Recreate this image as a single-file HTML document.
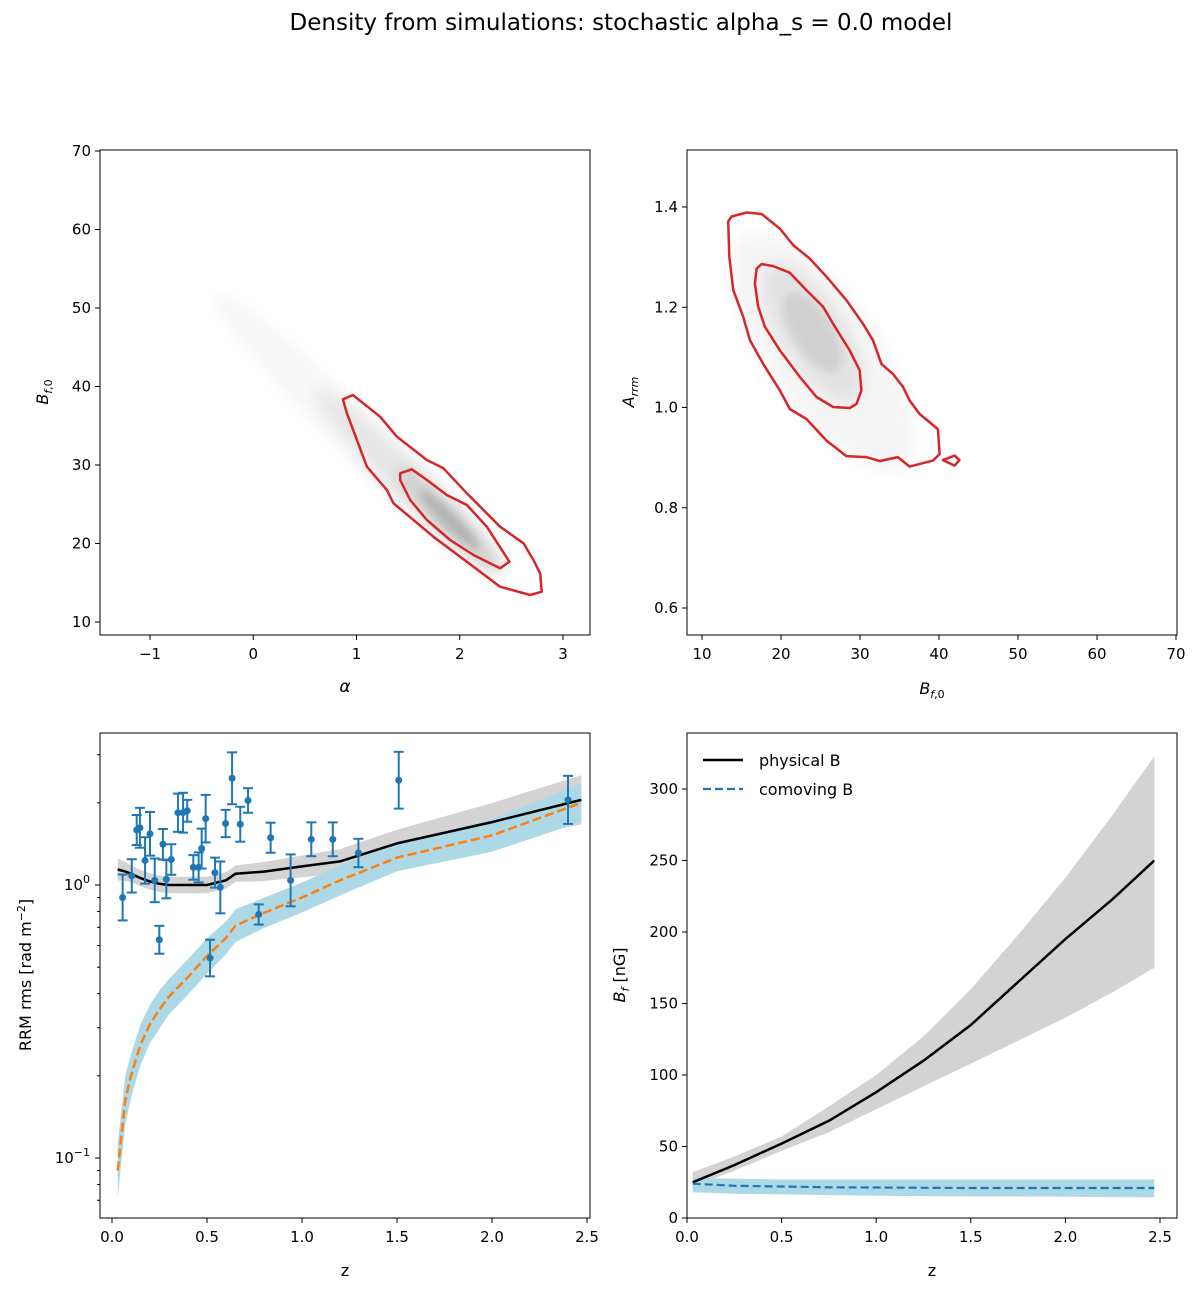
<!DOCTYPE html>
<html><head><meta charset="utf-8"><style>
body{margin:0;background:#fff}
svg{display:block;font-family:"DejaVu Sans","Liberation Sans",sans-serif}
</style></head><body>
<svg id="fig" width="1200" height="1289" viewBox="0 0 1200 1289" xmlns="http://www.w3.org/2000/svg">
<defs>
<filter id="blur8" x="-50%" y="-50%" width="200%" height="200%"><feGaussianBlur stdDeviation="8"/></filter>
<filter id="blur4" x="-50%" y="-50%" width="200%" height="200%"><feGaussianBlur stdDeviation="4"/></filter>
</defs>
<text x="621" y="30" font-size="23" text-anchor="middle">Density from simulations: stochastic alpha_s = 0.0 model</text>
<g id="root"></g>
</svg>
<script>
// ---------- data ----------
const tlOuterA=[0.868,0.965,1.229,1.391,1.682,1.842,2.069,2.391,2.617,2.713,2.778,2.795,2.681,2.391,2.133,1.745,1.358,1.294,1.101,0.907];
const tlOuterB=[38.37,38.92,36.15,33.61,30.64,29.58,26.39,22.14,20.03,17.90,16.20,13.86,13.44,14.50,17.04,20.87,25.12,26.82,29.78,36.59];
const tlInnerA=[1.423,1.536,1.682,1.875,2.069,2.262,2.481,2.391,2.133,1.907,1.682,1.520,1.423];
const tlInnerB=[28.94,29.45,28.09,26.18,24.90,22.14,17.68,16.84,18.54,20.45,23.0,25.54,28.09];
const trOuterB=[13.32,13.75,15.65,17.54,19.86,21.54,23.65,25.76,28.28,30.38,31.65,32.71,34.17,35.44,36.28,37.55,39.86,40.07,39.23,36.28,34.80,32.49,30.81,28.28,25.76,23.23,21.12,19.86,17.75,16.07,15.22,13.96,13.45];
const trOuterA=[1.371,1.381,1.389,1.386,1.357,1.324,1.297,1.261,1.214,1.167,1.134,1.087,1.067,1.041,1.014,0.987,0.957,0.907,0.894,0.882,0.901,0.893,0.901,0.903,0.934,0.977,0.997,1.034,1.087,1.134,1.181,1.234,1.301];
const trInnerB=[16.91,17.54,19.01,21.12,23.23,25.33,26.59,28.70,29.96,30.18,29.55,28.70,26.59,24.49,22.38,19.86,17.96,17.11,16.70];
const trInnerA=[1.277,1.286,1.282,1.269,1.234,1.201,1.167,1.114,1.074,1.034,1.007,0.999,1.001,1.021,1.061,1.114,1.161,1.201,1.247];
const trIsleB=[40.49,41.97,42.60,41.97];
const trIsleA=[0.895,0.904,0.895,0.884];

const obsZ=[0.056,0.104,0.130,0.147,0.174,0.200,0.225,0.249,0.268,0.286,0.312,0.347,0.374,0.396,0.428,0.456,0.472,0.493,0.516,0.542,0.570,0.598,0.632,0.675,0.716,0.772,0.835,0.940,1.049,1.162,1.297,1.509,2.40];
const obsRRM=[0.90,1.08,1.59,1.62,1.23,1.54,1.04,0.63,1.41,1.05,1.24,1.84,1.84,1.87,1.16,1.16,1.36,1.75,0.54,1.11,0.98,1.68,2.46,1.67,2.04,0.78,1.49,1.04,1.47,1.47,1.31,2.42,2.05];
const obsErrDex=[0.084,0.061,0.055,0.073,0.085,0.08,0.08,0.051,0.056,0.07,0.056,0.07,0.073,0.04,0.045,0.055,0.073,0.087,0.067,0.055,0.095,0.05,0.095,0.064,0.045,0.037,0.055,0.095,0.062,0.062,0.052,0.104,0.088];

const modZ=[0.03,0.07,0.1,0.15,0.2,0.25,0.3,0.4,0.5,0.6,0.65,0.8,1.0,1.2,1.5,2.0,2.47];
const physRRM=[1.14,1.12,1.10,1.06,1.03,1.01,1.0,1.0,1.0,1.04,1.10,1.12,1.17,1.22,1.42,1.70,2.05];
const physErrDex=[0.04,0.035,0.03,0.03,0.03,0.03,0.03,0.03,0.03,0.03,0.03,0.035,0.04,0.045,0.05,0.07,0.09];
const comRRM=[0.09,0.163,0.20,0.26,0.31,0.35,0.39,0.46,0.55,0.64,0.71,0.79,0.90,1.04,1.26,1.52,2.0];
const comErrDex=[0.1,0.09,0.08,0.075,0.07,0.07,0.065,0.065,0.065,0.06,0.06,0.055,0.055,0.055,0.05,0.06,0.07];

const bZ=[0.03,0.25,0.5,0.75,1.0,1.25,1.5,1.75,2.0,2.25,2.47];
const bPhys=[25,37,52,68,88,110,135,165,195,223,250];
const bPhysLo=[22,33,47,60,76,92,108,124,140,158,175];
const bPhysHi=[32,43,57,78,100,127,160,198,238,282,323];
const bCom=[24,22.5,22,21.5,21.3,21.1,21,21,21,21,21];
const bComLo=[18,17,16.5,16,15.5,15.3,15,15,14.8,14.6,14.5];
const bComHi=[28,27.5,27,27,27,27,27,27,27,27,27];

// ---------- helpers ----------
const NS="http://www.w3.org/2000/svg";
const root=document.getElementById('root');
function el(tag,attrs,parent){const e=document.createElementNS(NS,tag);for(const k in attrs)e.setAttribute(k,attrs[k]);(parent||root).appendChild(e);return e;}
function lin(d0,d1,p0,p1){return v=>p0+(v-d0)*(p1-p0)/(d1-d0);}
function logS(d0,d1,p0,p1){return v=>p0+(Math.log10(v)-Math.log10(d0))*(p1-p0)/(Math.log10(d1)-Math.log10(d0));}
function pts(xs,ys,sx,sy){return xs.map((x,i)=>sx(x).toFixed(1)+','+sy(ys[i]).toFixed(1)).join(' ');}

function frame(x0,y0,x1,y1,name){
  const r=el('rect',{x:x0,y:y0,width:x1-x0,height:y1-y0,fill:'none',stroke:'#000','stroke-width':1});
  
  
}
function xticks(vals,labels,sx,y,name){
  const g=el('g',{});
  
  
  vals.forEach((v,i)=>{const x=sx(v);el('line',{x1:x,x2:x,y1:y,y2:y+5,stroke:'#000'},g);
    const t=el('text',{x:x,y:y+24,'font-size':15,'text-anchor':'middle'},g);t.textContent=labels[i];});
}
function yticks(vals,labels,sy,x,name){
  const g=el('g',{});
  
  
  vals.forEach((v,i)=>{const y=sy(v);el('line',{x1:x-5,x2:x,y1:y,y2:y,stroke:'#000'},g);
    const t=el('text',{x:x-9,y:y+5,'font-size':15,'text-anchor':'end'},g);t.textContent=labels[i];});
}

// ---------- top-left ----------
(function(){
  const sx=lin(-1,3,150,563), sy=lin(10,70,622,151);
  const g=el('g',{});
  
  
  const ang=Math.atan2(sy(13)-sy(57),sx(2.9)-sx(-0.5))*180/Math.PI;
  const cx=sx(1.9),cy=sy(23);
  el('ellipse',{cx:sx(1.0),cy:sy(34),rx:200,ry:22,fill:'#000',opacity:0.03,transform:`rotate(${ang} ${sx(1.0)} ${sy(34)})`,filter:'url(#blur8)'},g);
  el('ellipse',{cx:sx(1.5),cy:sy(28),rx:130,ry:20,fill:'#000',opacity:0.06,transform:`rotate(${ang} ${sx(1.5)} ${sy(28)})`,filter:'url(#blur8)'},g);
  el('ellipse',{cx:cx,cy:cy,rx:75,ry:13,fill:'#000',opacity:0.12,transform:`rotate(${ang} ${cx} ${cy})`,filter:'url(#blur8)'},g);
  el('ellipse',{cx:cx,cy:cy,rx:40,ry:8,fill:'#000',opacity:0.12,transform:`rotate(${ang} ${cx} ${cy})`,filter:'url(#blur4)'},g);
  const o=el('polygon',{points:pts(tlOuterA,tlOuterB,sx,sy),fill:'none',stroke:'#d62728','stroke-width':2.5,'stroke-linejoin':'round'});
  
  
  const i=el('polygon',{points:pts(tlInnerA,tlInnerB,sx,sy),fill:'none',stroke:'#d62728','stroke-width':2.5,'stroke-linejoin':'round'});
  
  
  frame(100,150,590,635,'alpha-b-plot');
  xticks([-1,0,1,2,3],['−1','0','1','2','3'],sx,635,'x-axis-alpha-ticks');
  yticks([10,20,30,40,50,60,70],['10','20','30','40','50','60','70'],sy,100,'y-axis-bf0-ticks');
  const xl=el('text',{x:345,y:692,'font-size':17,'font-style':'italic','text-anchor':'middle'});xl.textContent='α';
  
  const yl=el('text',{x:0,y:0,'font-size':16,'text-anchor':'middle',transform:'translate(48,392) rotate(-90)'});
  yl.innerHTML='<tspan font-style="italic">B</tspan><tspan font-size="11" dy="4" font-style="italic">f</tspan><tspan font-size="11">,0</tspan>';
  
})();

// ---------- top-right ----------
(function(){
  const sx=lin(10,70,702,1176), sy=lin(0.6,1.4,608,207);
  const g=el('g',{});
  
  
  const cx=sx(24),cy=sy(1.15);
  el('ellipse',{cx:cx+10,cy:cy+20,rx:140,ry:55,fill:'#000',opacity:0.04,transform:`rotate(55 ${cx+10} ${cy+20})`,filter:'url(#blur8)'},g);
  el('ellipse',{cx:cx,cy:cy,rx:80,ry:32,fill:'#000',opacity:0.07,transform:`rotate(58 ${cx} ${cy})`,filter:'url(#blur8)'},g);
  el('ellipse',{cx:cx,cy:cy,rx:45,ry:20,fill:'#000',opacity:0.07,transform:`rotate(58 ${cx} ${cy})`,filter:'url(#blur4)'},g);
  const o=el('polygon',{points:pts(trOuterB,trOuterA,sx,sy),fill:'none',stroke:'#d62728','stroke-width':2.5,'stroke-linejoin':'round'});
  
  
  const i=el('polygon',{points:pts(trInnerB,trInnerA,sx,sy),fill:'none',stroke:'#d62728','stroke-width':2.5,'stroke-linejoin':'round'});
  
  
  const s=el('polygon',{points:pts(trIsleB,trIsleA,sx,sy),fill:'none',stroke:'#d62728','stroke-width':2.5,'stroke-linejoin':'round'});
  
  
  frame(687,150,1177,635,'b-arrm-plot');
  xticks([10,20,30,40,50,60,70],['10','20','30','40','50','60','70'],sx,635,'x-axis-bf0-ticks');
  yticks([0.6,0.8,1.0,1.2,1.4],['0.6','0.8','1.0','1.2','1.4'],sy,687,'y-axis-arrm-ticks');
  const xl=el('text',{x:932,y:694,'font-size':16,'text-anchor':'middle'});
  xl.innerHTML='<tspan font-style="italic">B</tspan><tspan font-size="11" dy="4" font-style="italic">f</tspan><tspan font-size="11">,0</tspan>';
  
  const yl=el('text',{x:0,y:0,'font-size':16,'text-anchor':'middle',transform:'translate(634,392) rotate(-90)'});
  yl.innerHTML='<tspan font-style="italic">A</tspan><tspan font-size="11" dy="4" font-style="italic">rrm</tspan>';
  
})();

// ---------- bottom-left ----------
(function(){
  const sx=lin(0,2.5,112,587), sy=logS(0.1,1,1158,885);
  const bandPts=(xs,ys,err)=>xs.map((x,i)=>sx(x).toFixed(1)+','+sy(ys[i]*Math.pow(10,err[i])).toFixed(1)).concat(xs.map((x,i)=>sx(x).toFixed(1)+','+sy(ys[i]/Math.pow(10,err[i])).toFixed(1)).reverse()).join(' ');
  const gb=el('polygon',{points:bandPts(modZ,physRRM,physErrDex),fill:'#d3d3d3',stroke:'none'});
  
  const bb=el('polygon',{points:bandPts(modZ,comRRM,comErrDex),fill:'#add8e6',stroke:'none'});
  
  const pl=el('polyline',{points:pts(modZ,physRRM,sx,sy),fill:'none',stroke:'#000','stroke-width':2.5,'stroke-linejoin':'round'});
  
  const cl=el('polyline',{points:pts(modZ,comRRM,sx,sy),fill:'none',stroke:'#ff7f0e','stroke-width':2.5,'stroke-dasharray':'9,4'});
  
  const g=el('g',{});
  
  
  obsZ.forEach((z,i)=>{
    const x=sx(z),y=sy(obsRRM[i]),yt=sy(obsRRM[i]*Math.pow(10,obsErrDex[i])),yb=sy(obsRRM[i]/Math.pow(10,obsErrDex[i]));
    const p=el('g',{},g);
    
    
    el('line',{x1:x,x2:x,y1:yt,y2:yb,stroke:'#1f77b4','stroke-width':2},p);
    el('line',{x1:x-5,x2:x+5,y1:yt,y2:yt,stroke:'#1f77b4','stroke-width':2},p);
    el('line',{x1:x-5,x2:x+5,y1:yb,y2:yb,stroke:'#1f77b4','stroke-width':2},p);
    el('circle',{cx:x,cy:y,r:3.5,fill:'#1f77b4'},p);
  });
  frame(100,733,590,1218,'rrm-plot');
  xticks([0,0.5,1,1.5,2,2.5],['0.0','0.5','1.0','1.5','2.0','2.5'],sx,1218,'x-axis-z-ticks-left');
  const yg=el('g',{});
  
  
  [0.07,0.08,0.09,0.2,0.3,0.4,0.5,0.6,0.7,0.8,0.9,2,3].forEach(v=>{const y=sy(v);el('line',{x1:97,x2:100,y1:y,y2:y,stroke:'#000'},yg);});
  [[0.1,'10','−1'],[1,'10','0']].forEach(([v,b,e])=>{const y=sy(v);el('line',{x1:95,x2:100,y1:y,y2:y,stroke:'#000'},yg);
    const t=el('text',{x:90,y:y+5,'font-size':15,'text-anchor':'end'},yg);t.innerHTML=b+'<tspan font-size="11" dy="-7">'+e+'</tspan>';});
  const xl=el('text',{x:345,y:1276,'font-size':16,'text-anchor':'middle'});xl.textContent='z';
  
  const yl=el('text',{x:0,y:0,'font-size':16,'text-anchor':'middle',transform:'translate(31,975) rotate(-90)'});
  yl.innerHTML='RRM rms [rad m<tspan font-size="11" dy="-6">−2</tspan><tspan dy="6">]</tspan>';
  
})();

// ---------- bottom-right ----------
(function(){
  const sx=lin(0,2.5,687,1160), sy=lin(0,300,1218,789);
  const band=(xs,lo,hi)=>xs.map((x,i)=>sx(x).toFixed(1)+','+sy(hi[i]).toFixed(1)).concat(xs.map((x,i)=>sx(x).toFixed(1)+','+sy(lo[i]).toFixed(1)).reverse()).join(' ');
  const gb=el('polygon',{points:band(bZ,bPhysLo,bPhysHi),fill:'#d3d3d3'});
  
  const bb=el('polygon',{points:band(bZ,bComLo,bComHi),fill:'#add8e6'});
  
  const pl=el('polyline',{points:pts(bZ,bPhys,sx,sy),fill:'none',stroke:'#000','stroke-width':2.5});
  
  const cl=el('polyline',{points:pts(bZ,bCom,sx,sy),fill:'none',stroke:'#1f77b4','stroke-width':2.2,'stroke-dasharray':'8,4'});
  
  frame(687,733,1177,1218,'bf-plot');
  xticks([0,0.5,1,1.5,2,2.5],['0.0','0.5','1.0','1.5','2.0','2.5'],sx,1218,'x-axis-z-ticks-right');
  yticks([0,50,100,150,200,250,300],['0','50','100','150','200','250','300'],sy,687,'y-axis-bf-ticks');
  const xl=el('text',{x:932,y:1276,'font-size':16,'text-anchor':'middle'});xl.textContent='z';
  
  const yl=el('text',{x:0,y:0,'font-size':16,'text-anchor':'middle',transform:'translate(625,975) rotate(-90)'});
  yl.innerHTML='<tspan font-style="italic">B</tspan><tspan font-size="11" dy="4" font-style="italic">f</tspan><tspan dy="-4"> [nG]</tspan>';
  
  const lg=el('g',{});
  
  
  const e1=el('g',{},lg);
  
  
  el('line',{x1:703,x2:743,y1:760,y2:760,stroke:'#000','stroke-width':2.5},e1);
  const t1=el('text',{x:759,y:766,'font-size':16},e1);t1.textContent='physical B';
  const e2=el('g',{},lg);
  
  
  el('line',{x1:703,x2:743,y1:789,y2:789,stroke:'#1f77b4','stroke-width':2.2,'stroke-dasharray':'8,4'},e2);
  const t2=el('text',{x:759,y:795,'font-size':16},e2);t2.textContent='comoving B';
})();
</script>
</body></html>
